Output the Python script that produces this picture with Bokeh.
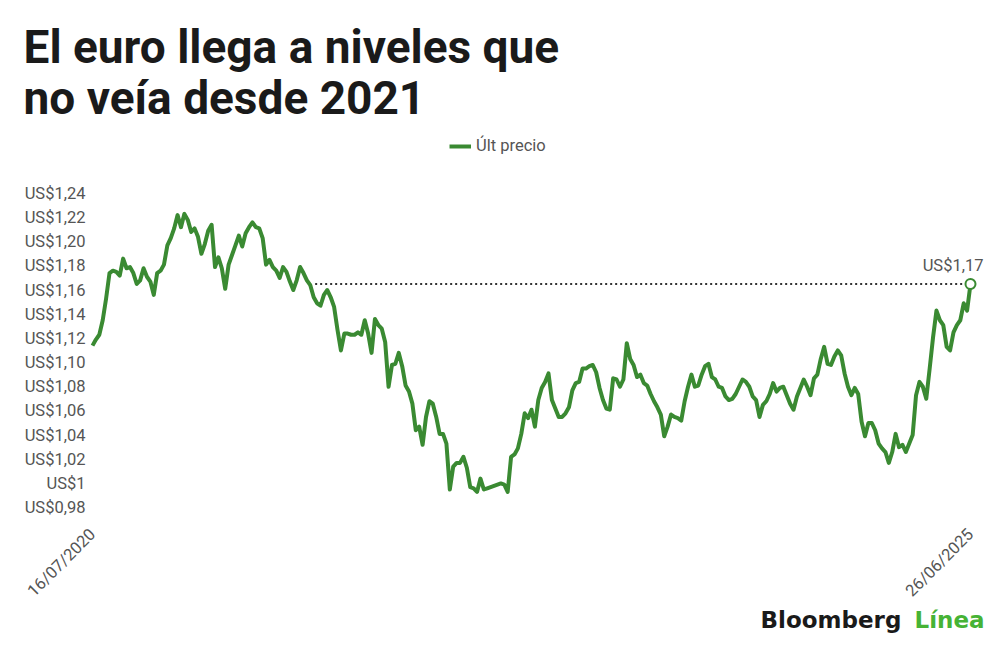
from math import pi
import pandas as pd
from bokeh.plotting import figure
from bokeh.models import (Range1d, FixedTicker, DatetimeTickFormatter, Label,
                          Legend, LegendItem)
from bokeh.core.properties import value
from bokeh.embed import file_html
from bokeh.resources import INLINE

# ---------------- data ----------------
title_lines = ["El euro llega a niveles que", "no veía desde 2021"]
series_name = "Últ precio"
start_date = "2020-07-16"
end_date = "2025-06-26"

# EUR/USD, weekly readings (Thursdays) from 16/07/2020 to 26/06/2025
eurusd = [
    1.114, 1.119, 1.123, 1.135, 1.153, 1.174, 1.176, 1.175, 1.172, 1.186,
    1.178, 1.179, 1.174, 1.165, 1.168, 1.178, 1.171, 1.167, 1.156, 1.174,
    1.176, 1.181, 1.197, 1.203, 1.211, 1.222, 1.212, 1.223, 1.218, 1.208,
    1.211, 1.204, 1.190, 1.198, 1.209, 1.214, 1.179, 1.187, 1.178, 1.161,
    1.181, 1.189, 1.197, 1.205, 1.196, 1.207, 1.212, 1.216, 1.212, 1.211,
    1.203, 1.181, 1.185, 1.179, 1.176, 1.170, 1.179, 1.175, 1.167, 1.160,
    1.168, 1.179, 1.174, 1.168, 1.164, 1.154, 1.149, 1.147, 1.156, 1.160,
    1.154, 1.146, 1.127, 1.110, 1.124, 1.124, 1.123, 1.123, 1.125, 1.123,
    1.135, 1.124, 1.108, 1.136, 1.131, 1.128, 1.117, 1.080, 1.098, 1.099,
    1.108, 1.097, 1.081, 1.076, 1.066, 1.044, 1.047, 1.032, 1.055, 1.068,
    1.066, 1.055, 1.041, 1.041, 1.033, 0.995, 1.014, 1.017, 1.017, 1.022,
    1.013, 0.997, 0.996, 0.993, 1.004, 0.995, 0.996, 0.997, 0.998, 0.999,
    1.000, 0.999, 0.993, 1.022, 1.024, 1.029, 1.041, 1.058, 1.054, 1.061,
    1.047, 1.069, 1.079, 1.084, 1.091, 1.069, 1.062, 1.055, 1.055, 1.058,
    1.063, 1.077, 1.083, 1.084, 1.095, 1.095, 1.097, 1.098, 1.092, 1.079,
    1.069, 1.062, 1.061, 1.087, 1.086, 1.080, 1.086, 1.116, 1.103, 1.098,
    1.088, 1.090, 1.083, 1.081, 1.074, 1.068, 1.063, 1.057, 1.039, 1.047,
    1.057, 1.055, 1.054, 1.052, 1.068, 1.080, 1.090, 1.080, 1.081, 1.090,
    1.097, 1.099, 1.088, 1.086, 1.080, 1.079, 1.072, 1.069, 1.070, 1.074,
    1.080, 1.086, 1.084, 1.080, 1.072, 1.069, 1.055, 1.065, 1.068, 1.074,
    1.083, 1.076, 1.079, 1.080, 1.073, 1.066, 1.061, 1.072, 1.079, 1.086,
    1.080, 1.073, 1.087, 1.090, 1.103, 1.113, 1.099, 1.098, 1.105, 1.110,
    1.106, 1.091, 1.080, 1.073, 1.079, 1.074, 1.051, 1.039, 1.050, 1.050,
    1.044, 1.033, 1.029, 1.026, 1.017, 1.026, 1.041, 1.030, 1.032, 1.026,
    1.033, 1.040, 1.073, 1.084, 1.080, 1.070, 1.095, 1.121, 1.143, 1.135,
    1.131, 1.113, 1.110, 1.125, 1.131, 1.135, 1.149, 1.143, 1.165,
]

y_ticks = [0.98, 1.00, 1.02, 1.04, 1.06, 1.08, 1.10, 1.12, 1.14, 1.16,
           1.18, 1.20, 1.22, 1.24]
y_tick_labels = ["US$0,98", "US$1", "US$1,02", "US$1,04", "US$1,06",
                 "US$1,08", "US$1,10", "US$1,12", "US$1,14", "US$1,16",
                 "US$1,18", "US$1,20", "US$1,22", "US$1,24"]
last_label = "US$1,17"
ref_from_date = "2021-10-17"   # last time the euro stood at the current level
brand = ["Bloomberg", "Línea"]

# ---------------- styles / layout ----------------
GREEN = "#3a8a32"
GRAY = "#555555"
DARK = "#1a1a1a"
FONT = "Roboto"
FS = "16.5px"
W, H = 984, 634
PX_PER_DAY = 0.48616          # horizontal scale
PX_PER_UNIT = 1210.0          # vertical scale (px per 1 US$)

dates = pd.date_range(start_date, end_date, periods=len(eurusd))
t0 = pd.Timestamp(start_date)
t1 = pd.Timestamp(end_date)

x_start = t0 - pd.Timedelta(days=92 / PX_PER_DAY)
x_end = t1 + pd.Timedelta(days=(W - 970) / PX_PER_DAY)
y_top = 1.24 + 193 / PX_PER_UNIT
y_bot = 0.98 - (H - 507) / PX_PER_UNIT

p = figure(width=W, height=H, x_axis_type="datetime",
           x_range=Range1d(x_start, x_end), y_range=Range1d(y_bot, y_top),
           output_backend="svg", toolbar_location=None, min_border=0)
p.outline_line_color = None
p.xgrid.visible = False
p.ygrid.visible = False
p.background_fill_color = "white"
p.border_fill_color = "white"

r = p.line(x=dates, y=eurusd, line_color=GREEN, line_width=4, line_join="round")

p.segment(x0=[pd.Timestamp(ref_from_date)], y0=[eurusd[-1]],
          x1=[dates[-1]], y1=[eurusd[-1]],
          line_color="#333333", line_width=2, line_dash="2 3")

p.scatter(x=[dates[-1]], y=[eurusd[-1]], size=10, fill_color="white",
          line_color=GREEN, line_width=2)
p.text(x=[dates[-1]], y=[eurusd[-1]], text=[last_label],
       text_font=value(FONT), text_font_size=FS, text_color=GRAY,
       text_align="right", text_baseline="alphabetic",
       x_offset=13, y_offset=-18)

# y axis, drawn at a fixed place just left of the series
yaxis = p.yaxis[0]
yaxis.fixed_location = (t0 - pd.Timedelta(days=4 / PX_PER_DAY)).value // 10**6
yaxis.ticker = FixedTicker(ticks=y_ticks)
yaxis.major_label_overrides = dict(zip(y_ticks, y_tick_labels))
yaxis.axis_line_color = None
yaxis.major_tick_line_color = None
yaxis.minor_tick_line_color = None
yaxis.major_tick_in = 0
yaxis.major_tick_out = 0
yaxis.major_label_standoff = 3
yaxis.major_label_text_font = FONT
yaxis.major_label_text_font_size = FS
yaxis.major_label_text_color = GRAY

# x axis, drawn just below the lowest tick
fmt = "%d/%m/%Y"
xaxis = p.xaxis[0]
xaxis.fixed_location = 0.98 - 8 / PX_PER_UNIT
xaxis.ticker = FixedTicker(ticks=[t0.value // 10**6, t1.value // 10**6])
xaxis.formatter = DatetimeTickFormatter(
    microseconds=fmt, milliseconds=fmt, seconds=fmt, minsec=fmt, minutes=fmt,
    hourmin=fmt, hours=fmt, days=fmt, months=fmt, years=fmt)
xaxis.major_label_orientation = pi / 4
xaxis.axis_line_color = None
xaxis.major_tick_line_color = None
xaxis.minor_tick_line_color = None
xaxis.major_tick_in = 0
xaxis.major_tick_out = 0
xaxis.major_label_standoff = 16
xaxis.major_label_text_font = FONT
xaxis.major_label_text_font_size = FS
xaxis.major_label_text_color = GRAY

legend = Legend(items=[LegendItem(label=series_name, renderers=[r])],
                location=(449, H - 155), orientation="horizontal",
                label_text_font=FONT, label_text_font_size=FS,
                label_text_color=GRAY, glyph_width=22, glyph_height=16,
                label_height=16, label_standoff=5, padding=4, margin=0,
                spacing=0, background_fill_alpha=0, border_line_color=None)
p.add_layout(legend)

# title (two lines), positions in screen px from the bottom-left corner
for txt, base in zip(title_lines, [46.5, 97.0]):
    p.add_layout(Label(x=23, y=H - base, x_units="screen", y_units="screen",
                       text=txt, text_font=FONT, text_font_size="46px",
                       text_font_style="bold", text_color=DARK,
                       text_baseline="alphabetic"))

# brand
for txt, bx, col in zip(brand, [760, 914], [DARK, "#46b335"]):
    p.add_layout(Label(x=bx, y=H - 619, x_units="screen", y_units="screen",
                       text=txt, text_font="DejaVu Sans", text_font_size="23px",
                       text_font_style="bold", text_color=col,
                       text_baseline="alphabetic"))

open("out.html", "w").write(file_html(p, INLINE))
